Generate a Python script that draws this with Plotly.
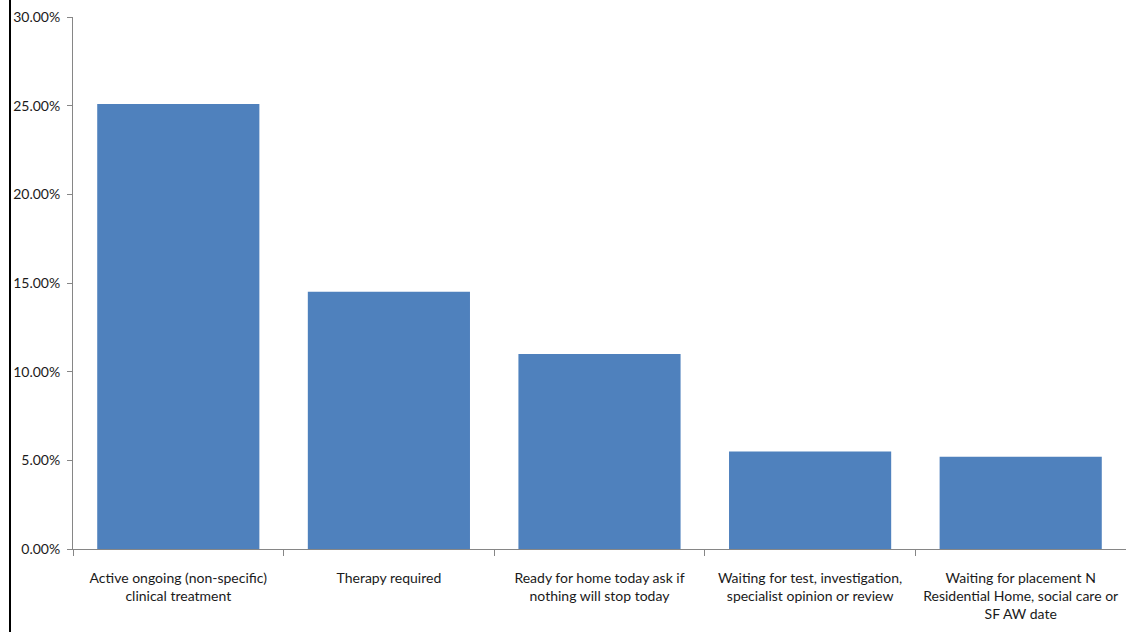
import plotly.graph_objects as go

categories = [
    "Active ongoing (non-specific)<br>clinical treatment",
    "Therapy required",
    "Ready for home today ask if<br>nothing will stop today",
    "Waiting for test, investigation,<br>specialist opinion or review",
    "Waiting for placement N<br>Residential Home, social care or<br>SF AW date",
]
values = [0.251, 0.145, 0.110, 0.055, 0.052]

FONT = "Lato"

fig = go.Figure(go.Bar(x=categories, y=values, marker=dict(color="#4F81BD", line=dict(width=0))))

fig.update_layout(
    width=1126, height=632,
    margin=dict(l=73, r=0, t=17, b=83),
    paper_bgcolor="white", plot_bgcolor="white",
    bargap=0.23,
    showlegend=False,
    font=dict(family=FONT, size=14, color="#1a1a1a"),
    shapes=[dict(type="line", xref="paper", yref="paper",
                 x0=-63/1053, x1=-63/1053, y0=-83/532, y1=1+17/532,
                 line=dict(color="black", width=2))],
)
fig.update_xaxes(
    showline=True, linecolor="#868686", linewidth=1,
    ticks="outside", tickson="boundaries", ticklen=6, tickcolor="#868686",
    showgrid=False, tickangle=0, automargin=False,
    tickfont=dict(size=14), ticklabelstandoff=16,
)
fig.update_yaxes(
    range=[0, 0.30], dtick=0.05, tickformat=".2%",
    showline=True, linecolor="#868686", linewidth=1,
    ticks="outside", ticklen=5, tickcolor="#868686",
    showgrid=False, zeroline=False, automargin=False,
    tickfont=dict(size=14), ticklabelstandoff=4,
)

fig.write_html("out.html")
